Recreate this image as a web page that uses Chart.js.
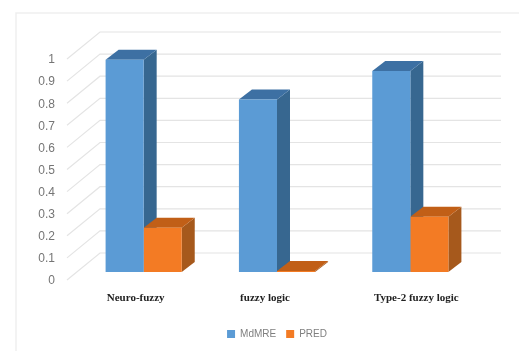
<!DOCTYPE html>
<html>
<head>
<meta charset="utf-8">
<style>html,body{margin:0;padding:0;background:#fff}canvas{display:block}</style>
<script src="https://cdn.jsdelivr.net/npm/chart.js@4"></script>
</head>
<body>
<canvas id="c" width="519" height="351"></canvas>
<script>
const categories = ['Neuro-fuzzy', 'fuzzy logic', 'Type-2 fuzzy logic'];
const mdmre = [0.96, 0.78, 0.91];
const pred = [0.2, 0.005, 0.25];
const seriesNames = ['MdMRE', 'PRED'];
const categoryShift = [-8, -12, 6];

const DEPTH_X = 13, DEPTH_Y = 10;
const faces = [
  { front: '#5b9bd5', top: '#3d70a3', side: '#376790' },
  { front: '#f37b24', top: '#c15f17', side: '#a6591c' }
];

function fillPoly(ctx, pts, color) {
  ctx.fillStyle = color;
  ctx.beginPath();
  pts.forEach((p, i) => i ? ctx.lineTo(p[0], p[1]) : ctx.moveTo(p[0], p[1]));
  ctx.closePath();
  ctx.fill();
}

// Back wall, side wall and the top and side faces of the extruded columns.
const extrude = {
  id: 'extrude',
  beforeDatasetsDraw(chart) {
    const { ctx, scales: { y } } = chart;
    ctx.save();
    ctx.strokeStyle = '#efefef';
    ctx.lineWidth = 1.5;
    ctx.beginPath();
    ctx.moveTo(16, 351); ctx.lineTo(16, 13); ctx.lineTo(519, 13);
    ctx.stroke();

    ctx.strokeStyle = '#e4e4e4';
    ctx.lineWidth = 1.2;
    y.ticks.forEach(t => {
      const py = y.getPixelForValue(t.value);
      ctx.beginPath();
      ctx.moveTo(67, py + 8);
      ctx.lineTo(100, py - 19);
      ctx.lineTo(501, py - 19);
      ctx.stroke();
    });

    categories.forEach((_, j) => {
      chart.data.datasets.forEach((ds, i) => {
        const bar = chart.getDatasetMeta(i).data[j];
        const l = bar.x - bar.width / 2, r = bar.x + bar.width / 2;
        const t = bar.y, b = bar.base;
        fillPoly(ctx, [[r, t], [r + DEPTH_X, t - DEPTH_Y], [r + DEPTH_X, b - DEPTH_Y], [r, b]], faces[i].side);
        fillPoly(ctx, [[l, t], [l + DEPTH_X, t - DEPTH_Y], [r + DEPTH_X, t - DEPTH_Y], [r, t]], faces[i].top);
      });
    });
    ctx.restore();
  },
  afterDraw(chart) {
    const { ctx, scales: { x } } = chart;
    ctx.save();
    ctx.fillStyle = '#222';
    ctx.font = 'bold 11px "Liberation Serif"';
    ctx.textAlign = 'center';
    ctx.textBaseline = 'middle';
    categories.forEach((label, j) => {
      ctx.fillText(label, x.getPixelForValue(j) + categoryShift[j], 298);
    });
    ctx.restore();
  }
};

new Chart(document.getElementById('c'), {
  type: 'bar',
  data: {
    labels: categories,
    datasets: [
      { label: seriesNames[0], data: mdmre, backgroundColor: faces[0].front },
      { label: seriesNames[1], data: pred, backgroundColor: faces[1].front }
    ]
  },
  options: {
    responsive: false,
    animation: false,
    layout: { padding: { left: 20, right: 42, top: 51, bottom: 2 } },
    datasets: { bar: { barPercentage: 1, categoryPercentage: 0.571 } },
    scales: {
      x: {
        grid: { display: false },
        border: { display: false },
        ticks: { display: false },
        afterFit(s) { s.height = 47; }
      },
      y: {
        min: 0, max: 1,
        grid: { display: false, drawTicks: false },
        border: { display: false },
        afterFit(s) { s.width = 57; },
        ticks: {
          stepSize: 0.1,
          padding: 22,
          labelOffset: 9,
          color: '#757575',
          font: { family: '"Liberation Sans"', size: 12 },
          callback: v => String(Math.round(v * 10) / 10)
        }
      }
    },
    plugins: {
      tooltip: { enabled: false },
      legend: {
        position: 'bottom',
        fullSize: false,
        labels: {
          boxWidth: 8, boxHeight: 8, padding: 10,
          color: '#7f7f7f',
          font: { family: '"Liberation Sans"', size: 10 }
        }
      }
    }
  },
  plugins: [extrude]
});
</script>
</body>
</html>
